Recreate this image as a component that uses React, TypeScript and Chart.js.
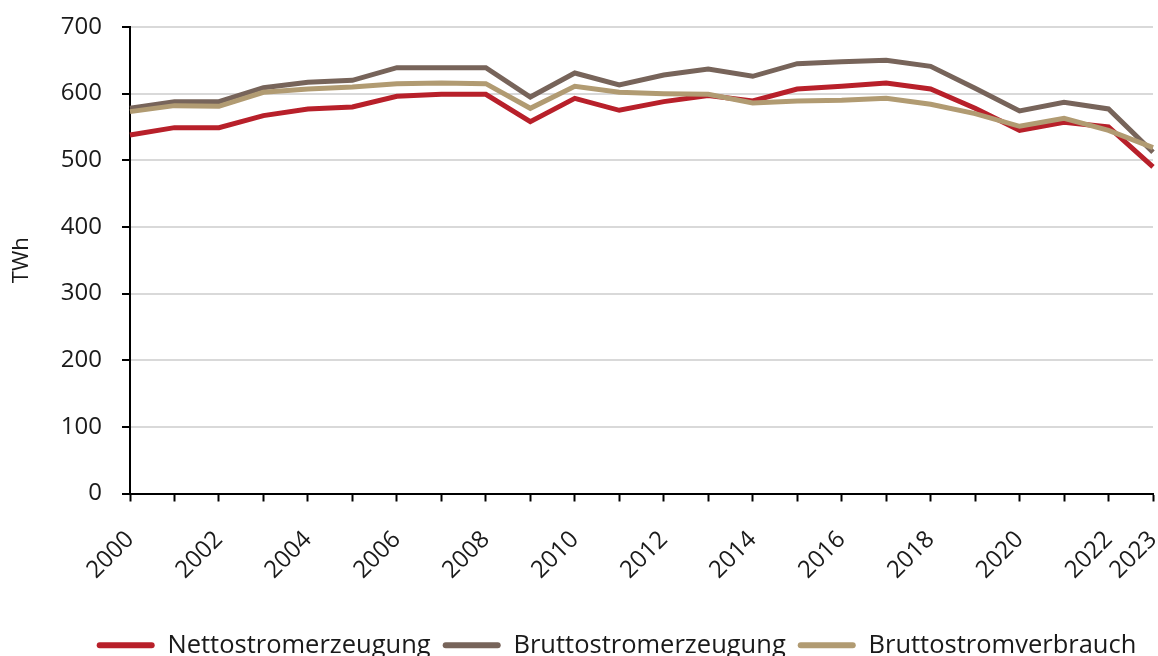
import React, { useEffect, useRef } from "react";
import { Chart, registerables } from "chart.js";

Chart.register(...registerables);

const years = [
  "2000", "2001", "2002", "2003", "2004", "2005", "2006", "2007", "2008", "2009", "2010", "2011",
  "2012", "2013", "2014", "2015", "2016", "2017", "2018", "2019", "2020", "2021", "2022", "2023",
];
const shownYearLabels = [
  "2000", "2002", "2004", "2006", "2008", "2010", "2012", "2014", "2016", "2018", "2020", "2022", "2023",
];
const nettostromerzeugung = [
  538, 549, 549, 567, 577, 580, 596, 599, 599, 558, 593, 575,
  588, 597, 589, 607, 611, 616, 607, 578, 545, 557, 550, 490,
];
const bruttostromerzeugung = [
  578, 588, 588, 609, 617, 620, 639, 639, 639, 595, 631, 613,
  628, 637, 626, 645, 648, 650, 641, 608, 574, 587, 577, 512,
];
const bruttostromverbrauch = [
  573, 582, 581, 602, 607, 610, 615, 616, 615, 578, 611, 602,
  600, 599, 586, 589, 590, 593, 584, 570, 551, 563, 545, 519,
];
const yTicks = [0, 100, 200, 300, 400, 500, 600, 700];

const COLOR_NETTO = "#B8202A";
const COLOR_BRUTTO = "#77645A";
const COLOR_VERBRAUCH = "#B19B72";
const FONT = "'Open Sans', sans-serif";

const legendShift = {
  id: "legendShift",
  afterLayout(chart: any) {
    if (chart.legend) {
      chart.legend.left += 40;
      chart.legend.right += 40;
    }
  },
};

export default function App() {
  const ref = useRef<HTMLCanvasElement>(null);

  useEffect(() => {
    if (!ref.current) return;
    const chart = new Chart(ref.current, {
      type: "line",
      data: {
        labels: years,
        datasets: [
          {
            label: "Nettostromerzeugung",
            data: nettostromerzeugung,
            borderColor: COLOR_NETTO,
            backgroundColor: COLOR_NETTO,
            borderWidth: 5,
            pointRadius: 0,
            tension: 0,
            order: 3,
          },
          {
            label: "Bruttostromerzeugung",
            data: bruttostromerzeugung,
            borderColor: COLOR_BRUTTO,
            backgroundColor: COLOR_BRUTTO,
            borderWidth: 5,
            pointRadius: 0,
            tension: 0,
            order: 2,
          },
          {
            label: "Bruttostromverbrauch",
            data: bruttostromverbrauch,
            borderColor: COLOR_VERBRAUCH,
            backgroundColor: COLOR_VERBRAUCH,
            borderWidth: 5,
            pointRadius: 0,
            tension: 0,
            order: 1,
          },
        ],
      },
      options: {
        responsive: false,
        animation: false,
        devicePixelRatio: 1,
        layout: { padding: { top: 27, right: 5, bottom: 0, left: 0 } },
        font: { family: FONT },
        plugins: {
          tooltip: { enabled: false },
          legend: {
            position: "bottom",
            labels: {
              font: { family: FONT, size: 25.5 },
              color: "#1a1a1a",
              boxWidth: 58,
              boxHeight: 6,
              useBorderRadius: true,
              borderRadius: 3,
              padding: 12,
              sort: (a: any, b: any) => a.datasetIndex - b.datasetIndex,
              generateLabels: (c: any) =>
                Chart.defaults.plugins.legend.labels
                  .generateLabels(c)
                  .map((l: any) => ({ ...l, lineWidth: 0, fillStyle: l.strokeStyle })),
            },
          },
        },
        scales: {
          x: {
            type: "category",
            grid: {
              display: true,
              drawOnChartArea: false,
              drawTicks: true,
              tickLength: 8,
              tickColor: "#000",
              tickWidth: 2,
            },
            border: { display: true, color: "#000", width: 2 },
            ticks: {
              autoSkip: false,
              maxRotation: 45,
              minRotation: 45,
              padding: 24,
              color: "#1a1a1a",
              font: { family: FONT, size: 24 },
              callback: (_v: any, i: number) =>
                shownYearLabels.includes(years[i]) ? years[i] : "",
            },
            afterFit: (s: any) => {
              s.height = 127;
              s.paddingLeft = 0;
              s.paddingRight = 0;
            },
          },
          y: {
            min: 0,
            max: 700,
            afterBuildTicks: (s: any) => {
              s.ticks = yTicks.map((v) => ({ value: v }));
            },
            grid: {
              color: "#d9d9d9",
              lineWidth: 2,
              tickLength: 8,
              tickColor: "#000",
              tickWidth: 2,
            },
            border: { display: true, color: "#000", width: 2 },
            ticks: {
              padding: 20,
              color: "#1a1a1a",
              font: { family: FONT, size: 24 },
            },
            title: {
              display: true,
              text: "TWh",
              color: "#1a1a1a",
              font: { family: FONT, size: 22 },
              padding: { top: 9, bottom: 0 },
            },
            afterFit: (s: any) => {
              s.width = 130;
              s.paddingTop = 0;
              s.paddingBottom = 0;
            },
          },
        },
      },
      plugins: [legendShift],
    });
    return () => chart.destroy();
  }, []);

  return (
    <div
      style={{
        position: "fixed",
        left: 0,
        top: 0,
        width: 1158,
        height: 656,
        overflow: "hidden",
        background: "#fff",
      }}
    >
      <canvas ref={ref} width={1158} height={668} style={{ display: "block" }} />
    </div>
  );
}
